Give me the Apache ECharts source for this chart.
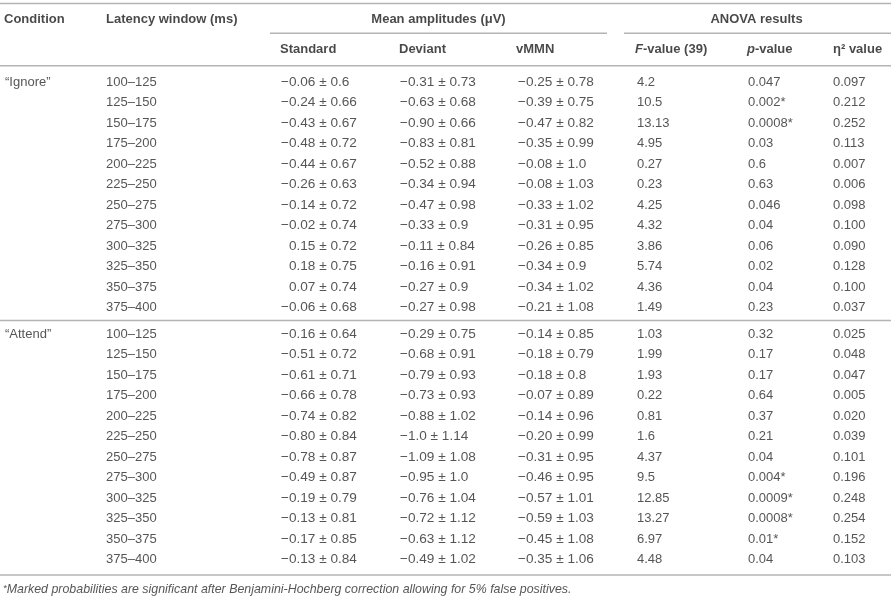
<!DOCTYPE html>
<html>
<head>
<meta charset="utf-8">
<script src="https://cdn.jsdelivr.net/npm/echarts@6/dist/echarts.min.js"></script>
<style>html,body{margin:0;padding:0;background:#fff}#c{width:891px;height:601px}</style>
</head>
<body>
<div id="c"></div>
<script>
// ---------- data ----------
const latency = ['100–125','125–150','150–175','175–200','200–225','225–250','250–275','275–300','300–325','325–350','350–375','375–400'];
const conditions = ['“Ignore”','“Attend”'];
const ignoreStandard = [['-0.06','0.6'],['-0.24','0.66'],['-0.43','0.67'],['-0.48','0.72'],['-0.44','0.67'],['-0.26','0.63'],['-0.14','0.72'],['-0.02','0.74'],['0.15','0.72'],['0.18','0.75'],['0.07','0.74'],['-0.06','0.68']];
const ignoreDeviant = [['-0.31','0.73'],['-0.63','0.68'],['-0.90','0.66'],['-0.83','0.81'],['-0.52','0.88'],['-0.34','0.94'],['-0.47','0.98'],['-0.33','0.9'],['-0.11','0.84'],['-0.16','0.91'],['-0.27','0.9'],['-0.27','0.98']];
const ignoreVMMN = [['-0.25','0.78'],['-0.39','0.75'],['-0.47','0.82'],['-0.35','0.99'],['-0.08','1.0'],['-0.08','1.03'],['-0.33','1.02'],['-0.31','0.95'],['-0.26','0.85'],['-0.34','0.9'],['-0.34','1.02'],['-0.21','1.08']];
const ignoreF = ['4.2','10.5','13.13','4.95','0.27','0.23','4.25','4.32','3.86','5.74','4.36','1.49'];
const ignoreP = ['0.047','0.002*','0.0008*','0.03','0.6','0.63','0.046','0.04','0.06','0.02','0.04','0.23'];
const ignoreEta = ['0.097','0.212','0.252','0.113','0.007','0.006','0.098','0.100','0.090','0.128','0.100','0.037'];
const attendStandard = [['-0.16','0.64'],['-0.51','0.72'],['-0.61','0.71'],['-0.66','0.78'],['-0.74','0.82'],['-0.80','0.84'],['-0.78','0.87'],['-0.49','0.87'],['-0.19','0.79'],['-0.13','0.81'],['-0.17','0.85'],['-0.13','0.84']];
const attendDeviant = [['-0.29','0.75'],['-0.68','0.91'],['-0.79','0.93'],['-0.73','0.93'],['-0.88','1.02'],['-1.0','1.14'],['-1.09','1.08'],['-0.95','1.0'],['-0.76','1.04'],['-0.72','1.12'],['-0.63','1.12'],['-0.49','1.02']];
const attendVMMN = [['-0.14','0.85'],['-0.18','0.79'],['-0.18','0.8'],['-0.07','0.89'],['-0.14','0.96'],['-0.20','0.99'],['-0.31','0.95'],['-0.46','0.95'],['-0.57','1.01'],['-0.59','1.03'],['-0.45','1.08'],['-0.35','1.06']];
const attendF = ['1.03','1.99','1.93','0.22','0.81','1.6','4.37','9.5','12.85','13.27','6.97','4.48'];
const attendP = ['0.32','0.17','0.17','0.64','0.37','0.21','0.04','0.004*','0.0009*','0.0008*','0.01*','0.04'];
const attendEta = ['0.025','0.048','0.047','0.005','0.020','0.039','0.101','0.196','0.248','0.254','0.152','0.103'];
const headerTop = ['Condition','Latency window (ms)','Mean amplitudes (μV)','ANOVA results'];
const headerSub = ['Standard','Deviant','vMMN','{bi|F}{b|-value (39)}','{bi|p}{b|-value}','η² value'];
const footnote = 'Marked probabilities are significant after Benjamini-Hochberg correction allowing for 5% false positives.';

// ---------- layout ----------
const W = 891, H = 601;
const colX = {cond: 4, lat: 106, std: 281, dev: 400, vmmn: 518, f: 637, p: 748, eta: 833};
const yTopHead = 19, ySubHead = 49.5;
const firstRow = [82, 334];
const rowStep = 20.5;
const yFoot = 590;
const rules = [
  [0, 3.5, W, 3.5], [270, 33.3, 607, 33.3], [624, 33.3, W, 33.3],
  [0, 65.7, W, 65.7], [0, 320.5, W, 320.5], [0, 575, W, 575]
];
const lineColor = '#b4b4b4';
const fontFam = '"Liberation Sans", Arial, Helvetica, sans-serif';

function pm(pair) {
  const m = pair[0], s = pair[1];
  const neg = m.charAt(0) === '-';
  const mm = neg ? '−' + m.slice(1) : m;
  return (neg ? '' : '{h|−}') + '{m|' + mm + ' ± ' + s + '}';
}

const headItems = [], dataItems = [];
function add(arr, x, y, text, align) {
  arr.push({value: [x, y], text: text, label: {align: align || 'left'}});
}
add(headItems, colX.cond, yTopHead, '{b|' + headerTop[0] + '}');
add(headItems, colX.lat, yTopHead, '{b|' + headerTop[1] + '}');
add(headItems, (270 + 607) / 2, yTopHead, '{b|' + headerTop[2] + '}', 'center');
add(headItems, (624 + W) / 2 - 1, yTopHead, '{b|' + headerTop[3] + '}', 'center');
const subCols = [colX.std - 1, colX.dev - 1, colX.vmmn - 2, colX.f - 2, colX.p - 1, colX.eta];
headerSub.forEach((h, i) => add(headItems, subCols[i], ySubHead, h.indexOf('{') === 0 ? h : '{b|' + h + '}'));

const groups = [
  {std: ignoreStandard, dev: ignoreDeviant, vmmn: ignoreVMMN, f: ignoreF, p: ignoreP, eta: ignoreEta},
  {std: attendStandard, dev: attendDeviant, vmmn: attendVMMN, f: attendF, p: attendP, eta: attendEta}
];
groups.forEach((g, gi) => {
  add(dataItems, colX.cond + 1, firstRow[gi], '{n|' + conditions[gi] + '}');
  latency.forEach((lat, i) => {
    const y = firstRow[gi] + i * rowStep;
    add(dataItems, colX.lat, y, '{n|' + lat + '}');
    add(dataItems, colX.std, y, pm(g.std[i]));
    add(dataItems, colX.dev, y, pm(g.dev[i]));
    add(dataItems, colX.vmmn, y, pm(g.vmmn[i]));
    add(dataItems, colX.f, y, '{n|' + g.f[i] + '}');
    add(dataItems, colX.p, y, '{n|' + g.p[i] + '}');
    add(dataItems, colX.eta, y, '{n|' + g.eta[i] + '}');
  });
});
const footItems = [{value: [3, yFoot], text: '{s|*}{i|' + footnote + '}', label: {align: 'left'}}];

function textSeries(items, rich) {
  return {
    type: 'scatter', symbolSize: 0, silent: true, data: items,
    label: {
      show: true, position: [0, 0], align: 'left', verticalAlign: 'middle',
      fontFamily: fontFam, fontSize: 13, color: '#222',
      formatter: p => p.data.text, rich: rich
    }
  };
}

const series = [];
rules.forEach(r => series.push({
  type: 'line', silent: true, symbol: 'none', animation: false,
  data: [[r[0], r[1]], [r[2], r[3]]],
  lineStyle: {color: lineColor, width: 1.5}
}));
series.push(textSeries(headItems, {
  b: {fontFamily: fontFam, fontSize: 13, fontWeight: 'bold', color: '#1a1a1a'},
  bi: {fontFamily: fontFam, fontSize: 13, fontWeight: 'bold', fontStyle: 'italic', color: '#1a1a1a'}
}));
series.push(textSeries(dataItems, {
  n: {fontFamily: fontFam, fontSize: 13, color: '#2a2a2a'},
  m: {fontFamily: fontFam, fontSize: 13.6, color: '#2a2a2a'},
  h: {fontFamily: fontFam, fontSize: 13.6, color: 'rgba(0,0,0,0)'}
}));
series.push(textSeries(footItems, {
  s: {fontFamily: fontFam, fontSize: 9.5, fontStyle: 'italic', color: '#2a2a2a', lineHeight: 14, verticalAlign: 'top'},
  i: {fontFamily: fontFam, fontSize: 12.4, fontStyle: 'italic', color: '#2a2a2a', lineHeight: 14}
}));

const chart = echarts.init(document.getElementById('c'), null, {renderer: 'canvas'});
chart.setOption({
  animation: false,
  grid: {left: 0, right: 0, top: 0, bottom: 0},
  xAxis: {type: 'value', min: 0, max: W, show: false},
  yAxis: {type: 'value', min: 0, max: H, inverse: true, show: false},
  series: series
});
</script>
</body>
</html>
